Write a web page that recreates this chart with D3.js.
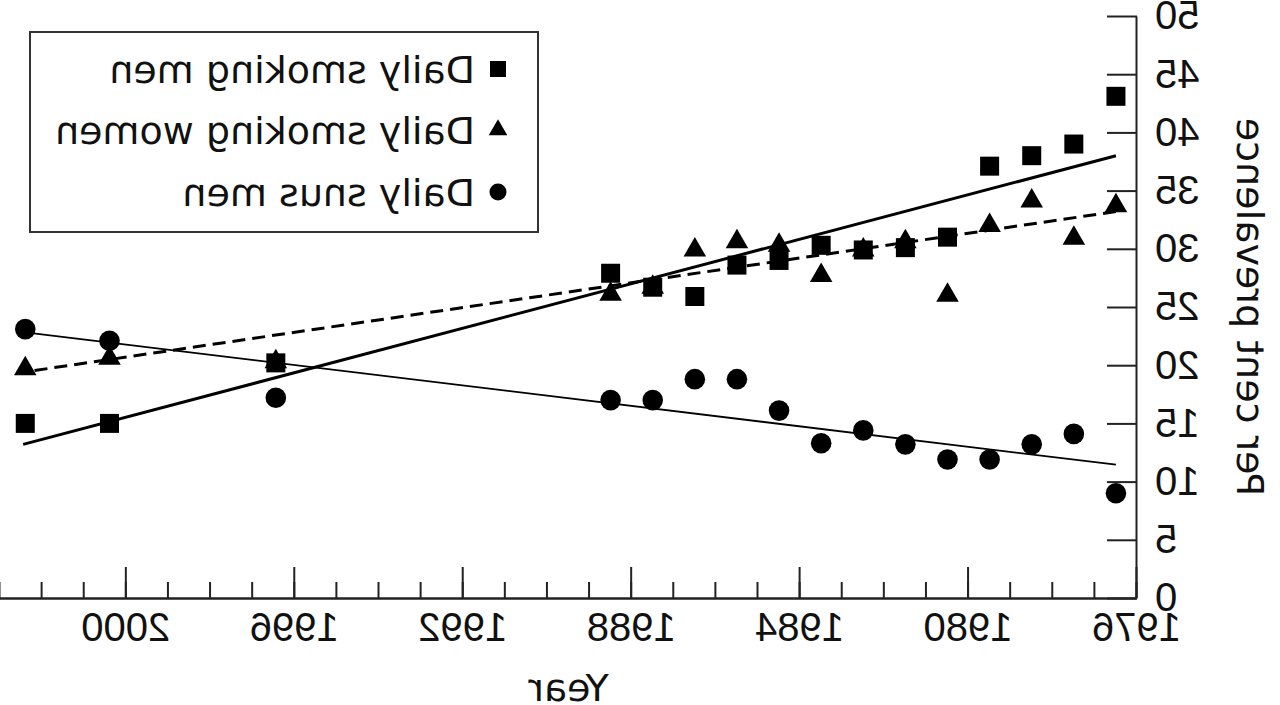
<!DOCTYPE html>
<html><head><meta charset="utf-8">
<script src="https://cdn.jsdelivr.net/npm/d3@7"></script>
<style>
html,body{margin:0;padding:0;background:#fff;}
svg text{font-family:"DejaVu Sans",sans-serif;fill:#111;}
</style></head>
<body><svg id="c" width="1280" height="705"></svg>
<script>
// Survey years (points sit mid-year)
const years = [1976.5,1977.5,1978.5,1979.5,1980.5,1981.5,1982.5,1983.5,1984.5,1985.5,1986.5,1987.5,1988.5,1996.45,2000.4,2002.4];
const smokingMen   = [43.1,39.0,38.0,37.1,31.0,30.1,29.9,30.3,29.0,28.6,25.9,26.7,27.9,20.2,15.0,15.0];
const smokingWomen = [33.7,30.9,34.1,32.0,26.0,30.6,29.9,27.7,30.3,30.6,29.9,26.7,26.1,20.3,20.6,19.7];
const snusMen      = [9.0,14.1,13.2,11.9,11.9,13.2,14.4,13.3,16.1,18.8,18.8,17.0,17.0,17.2,22.1,23.1];
// Trend lines (end points)
const trendYears = [1976.5, 2002.45];
const trendMen   = [38.0, 13.2];
const trendWomen = [33.2, 19.4];
const trendSnus  = [11.45, 22.85];
const xMajorTicks = [1976,1980,1984,1988,1992,1996,2000];
const xMinorTicks = d3.range(1976,2004);
const yTicks = [0,5,10,15,20,25,30,35,40,45,50];
const legendLabels = ["Daily smoking men","Daily smoking women","Daily snus men"];

const svg = d3.select("#c");
// The whole figure is mirrored horizontally
const g = svg.append("g").attr("transform","translate(1280,0) scale(-1,1)");

const x = d3.scaleLinear().domain([1976,2003]).range([143,1280]);
const y = d3.scaleLinear().domain([0,50]).range([598,16]);

// x axis minor
g.append("g").attr("transform",`translate(0,${y(0)})`)
 .call(d3.axisBottom(x).tickValues(xMinorTicks).tickSize(-16).tickSizeOuter(0).tickFormat(""))
 .call(a=>a.selectAll("line,path").attr("stroke","#222").attr("stroke-width",2));
// x axis major
const xa = g.append("g").attr("transform",`translate(0,${y(0)})`)
 .call(d3.axisBottom(x).tickValues(xMajorTicks).tickSize(-31).tickSizeOuter(0).tickPadding(15).tickFormat(d3.format("d")));
xa.selectAll("line,path").attr("stroke","#222").attr("stroke-width",2);
xa.selectAll("text").style("font-family","'Liberation Sans',Arial,sans-serif").style("font-size","40px").attr("fill","#111");

// y axis
const ya = g.append("g").attr("transform",`translate(${x(1976)},0)`)
 .call(d3.axisLeft(y).tickValues(yTicks).tickSize(-30).tickSizeOuter(0).tickPadding(18));
ya.selectAll("line,path").attr("stroke","#222").attr("stroke-width",2);
ya.selectAll("text").style("font-family","'Liberation Sans',Arial,sans-serif").style("font-size","40px").attr("fill","#111");

// axis titles
g.append("text").attr("x",(x(1976)+1280)/2).attr("y",701).attr("text-anchor","middle")
 .style("font-size","38px").text("Year");
g.append("text").attr("transform",`translate(43,${(y(0)+y(50))/2}) rotate(-90)`).attr("text-anchor","middle")
 .style("font-size","38px").text("Per cent prevalence");

// trend lines
const line = d3.line().x(d=>x(d[0])).y(d=>y(d[1]));
g.append("path").datum(d3.zip(trendYears,trendMen)).attr("d",line)
 .attr("fill","none").attr("stroke","#000").attr("stroke-width",3);
g.append("path").datum(d3.zip(trendYears,trendWomen)).attr("d",line)
 .attr("fill","none").attr("stroke","#000").attr("stroke-width",3).attr("stroke-dasharray","13,7");
g.append("path").datum(d3.zip(trendYears,trendSnus)).attr("d",line)
 .attr("fill","none").attr("stroke","#000").attr("stroke-width",1.8);

// markers
const sq = d3.symbol().type(d3.symbolSquare).size(19*19);
const tri = d3.symbol().type(d3.symbolTriangle).size(220);
const cir = d3.symbol().type(d3.symbolCircle).size(Math.PI*10.3*10.3);
function plot(vals, sym){
  g.append("g").selectAll("path").data(d3.zip(years,vals)).join("path")
   .attr("transform",d=>`translate(${x(d[0])},${y(d[1])})`).attr("d",sym).attr("fill","#000");
}
plot(snusMen,cir);
plot(smokingWomen,tri);
plot(smokingMen,sq);

// legend
const lg = g.append("g");
lg.append("rect").attr("x",742).attr("y",32).attr("width",508).attr("height",200)
  .attr("fill","#fff").attr("stroke","#333").attr("stroke-width",2);
const legSyms = [d3.symbol().type(d3.symbolSquare).size(16*16),
                 d3.symbol().type(d3.symbolTriangle).size(150),
                 d3.symbol().type(d3.symbolCircle).size(Math.PI*8.5*8.5)];
const rowY = [69,130,192];
legendLabels.forEach((lab,i)=>{
  lg.append("path").attr("transform",`translate(782,${rowY[i]})`).attr("d",legSyms[i]()).attr("fill","#000");
  lg.append("text").attr("x",805).attr("y",rowY[i]+14).style("font-size","38px").text(lab);
});
</script></body></html>
